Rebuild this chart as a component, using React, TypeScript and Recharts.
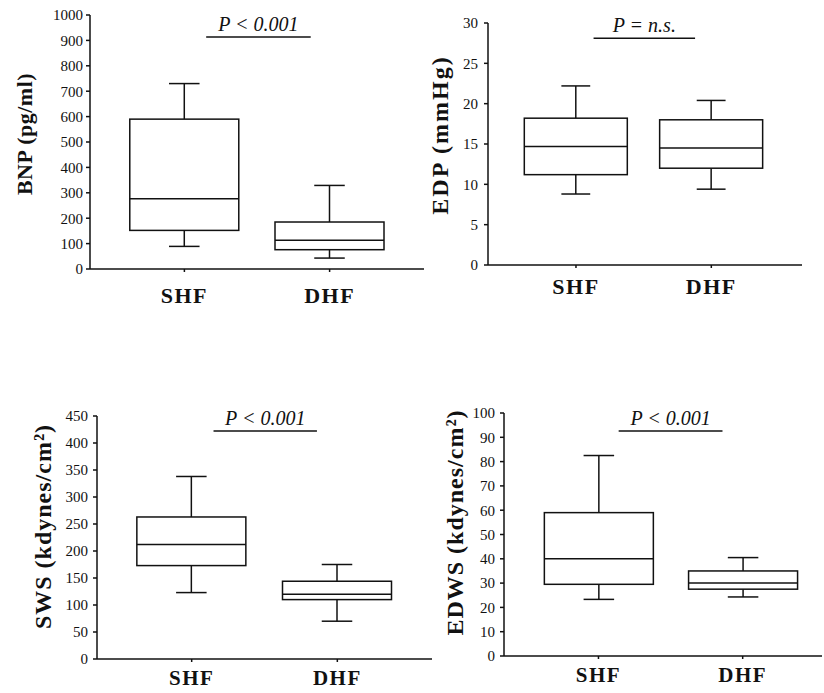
import React from "react";
import { Bar, ComposedChart, ReferenceLine, XAxis, YAxis } from "recharts";

const groups = ["SHF", "DHF"];

// each box: [low whisker, Q1, median, Q3, high whisker]
const bnpBoxes = [
  [89, 152, 277, 590, 730],
  [43, 76, 113, 185, 329],
];
const edpBoxes = [
  [8.8, 11.2, 14.7, 18.2, 22.2],
  [9.4, 12.0, 14.5, 18.0, 20.4],
];
const swsBoxes = [
  [123, 173, 212, 263, 338],
  [70, 110, 120, 144, 175],
];
const edwsBoxes = [
  [23.3, 29.5, 40, 59, 82.5],
  [24.3, 27.5, 30, 35, 40.5],
];

const bnpTicks = [0, 100, 200, 300, 400, 500, 600, 700, 800, 900, 1000];
const edpTicks = [0, 5, 10, 15, 20, 25, 30];
const swsTicks = [0, 50, 100, 150, 200, 250, 300, 350, 400, 450];
const edwsTicks = [0, 10, 20, 30, 40, 50, 60, 70, 80, 90, 100];

const ink = "#111";
const serif = "'Liberation Serif', 'DejaVu Serif', serif";

function BoxShape(props: any) {
  const { x, y, width, height, payload } = props;
  const [lo, q1, med, q3, hi] = payload.stats;
  const top = Math.min(y, y + height);
  const h = Math.abs(height);
  const py = (v: number) => top + (h * (hi - v)) / (hi - lo);
  const cx = x + width / 2;
  const cap = width * 0.14;
  return (
    <g stroke={ink} strokeWidth={1.5} fill="none">
      <line x1={cx} x2={cx} y1={py(hi)} y2={py(q3)} />
      <line x1={cx} x2={cx} y1={py(q1)} y2={py(lo)} />
      <line x1={cx - cap} x2={cx + cap} y1={py(hi)} y2={py(hi)} />
      <line x1={cx - cap} x2={cx + cap} y1={py(lo)} y2={py(lo)} />
      <rect x={x} y={py(q3)} width={width} height={py(q1) - py(q3)} fill="#fff" />
      <line x1={x} x2={x + width} y1={py(med)} y2={py(med)} />
    </g>
  );
}

const yTitle = (text: string, dx: number, size: number, spacing: number, lift: number) => (props: any) => {
  const vb = props.viewBox;
  const cx = vb.x + dx;
  const cy = vb.y + vb.height / 2 - lift;
  return (
    <text
      x={cx}
      y={cy}
      transform={`rotate(-90 ${cx} ${cy})`}
      textAnchor="middle"
      dominantBaseline="central"
      style={{ fill: ink, fontFamily: serif, fontWeight: 700, fontSize: size, letterSpacing: spacing }}
    >
      {text}
    </text>
  );
};

type PanelProps = {
  boxes: number[][];
  ticks: number[];
  title: string;
  titleSize: number;
  titleSpacing: number;
  titleLift: number;
  titleOffset: number;
  pText: string;
  pLevel: number;
  pSpan: [number, number];
  left: number;
  top: number;
  width: number;
  height: number;
  margin: { top: number; right: number; bottom: number; left: number };
  xDomain: [number, number];
  barSize: number;
  tickMargin: number;
  catMargin: number;
  catSize: number;
};

function Panel(p: PanelProps) {
  const data = groups.map((g, i) => ({
    name: g,
    pos: i + 1,
    range: [p.boxes[i][0], p.boxes[i][4]],
    stats: p.boxes[i],
  }));
  return (
    <div style={{ position: "absolute", left: p.left, top: p.top }}>
      <ComposedChart width={p.width} height={p.height} data={data} margin={p.margin}>
        <XAxis
          type="number"
          dataKey="pos"
          domain={p.xDomain}
          ticks={[1, 2]}
          interval={0}
          tickFormatter={(v: number) => groups[v - 1]}
          height={36}
          stroke={ink}
          strokeWidth={1.5}
          tickSize={3}
          tickMargin={p.catMargin}
          tick={{
            fill: ink,
            fontFamily: serif,
            fontWeight: 700,
            fontSize: p.catSize,
            style: { fontFamily: serif, fontWeight: 700, fontSize: p.catSize, letterSpacing: 1.5 },
          }}
        />
        <YAxis
          type="number"
          domain={[0, p.ticks[p.ticks.length - 1]]}
          ticks={p.ticks}
          interval={0}
          width={70}
          stroke={ink}
          strokeWidth={1.5}
          tickSize={4}
          tickMargin={p.tickMargin}
          tick={{ fill: ink, fontFamily: serif, fontSize: 15, style: { fontFamily: serif, fontSize: 15 } }}
          label={yTitle(p.title, p.titleOffset, p.titleSize, p.titleSpacing, p.titleLift)}
        />
        <ReferenceLine
          segment={[
            { x: p.pSpan[0], y: p.pLevel },
            { x: p.pSpan[1], y: p.pLevel },
          ]}
          stroke={ink}
          strokeWidth={1.5}
          ifOverflow="visible"
          label={{
            value: p.pText,
            position: "top",
            offset: 6,
            style: { fill: ink, fontFamily: serif, fontStyle: "italic", fontSize: 20 },
          }}
        />
        <Bar dataKey="range" barSize={p.barSize} shape={BoxShape} isAnimationActive={false} />
      </ComposedChart>
    </div>
  );
}

export default function App() {
  return (
    <div style={{ position: "absolute", left: 0, top: 0, width: 824, height: 693, background: "#fff", overflow: "hidden" }}>
      <Panel
        boxes={bnpBoxes}
        ticks={bnpTicks}
        title="BNP (pg/ml)"
        titleSize={22}
        titleSpacing={0.5}
        titleLift={8}
        titleOffset={4}
        pText="P < 0.001"
        pLevel={913}
        pSpan={[1.15, 1.87]}
        left={0}
        top={0}
        width={430}
        height={320}
        margin={{ top: 15, right: 6, bottom: 15, left: 20 }}
        xDomain={[0.35, 2.65]}
        barSize={109}
        tickMargin={3}
        catMargin={15}
        catSize={22}
      />
      <Panel
        boxes={edpBoxes}
        ticks={edpTicks}
        title="EDP (mmHg)"
        titleSize={24}
        titleSpacing={2}
        titleLift={9}
        titleOffset={22}
        pText="P = n.s."
        pLevel={28.1}
        pSpan={[1.13, 1.88]}
        left={412}
        top={0}
        width={400}
        height={320}
        margin={{ top: 23, right: 10, bottom: 19, left: 6 }}
        xDomain={[0.35, 2.67]}
        barSize={103}
        tickMargin={6}
        catMargin={10}
        catSize={22}
      />
      <Panel
        boxes={swsBoxes}
        ticks={swsTicks}
        title="SWS (kdynes/cm²)"
        titleSize={24}
        titleSpacing={1}
        titleLift={11}
        titleOffset={16}
        pText="P < 0.001"
        pLevel={422}
        pSpan={[1.15, 1.86]}
        left={0}
        top={390}
        width={440}
        height={303}
        margin={{ top: 26, right: 8, bottom: -2, left: 27 }}
        xDomain={[0.35, 2.65]}
        barSize={109}
        tickMargin={5}
        catMargin={8}
        catSize={21}
      />
      <Panel
        boxes={edwsBoxes}
        ticks={edwsTicks}
        title="EDWS (kdynes/cm²)"
        titleSize={24}
        titleSpacing={1}
        titleLift={12}
        titleOffset={21}
        pText="P < 0.001"
        pLevel={92.6}
        pSpan={[1.14, 1.86]}
        left={412}
        top={390}
        width={412}
        height={303}
        margin={{ top: 23, right: 2, bottom: 1, left: 22 }}
        xDomain={[0.345, 2.55]}
        barSize={109}
        tickMargin={5}
        catMargin={8}
        catSize={21}
      />
    </div>
  );
}
